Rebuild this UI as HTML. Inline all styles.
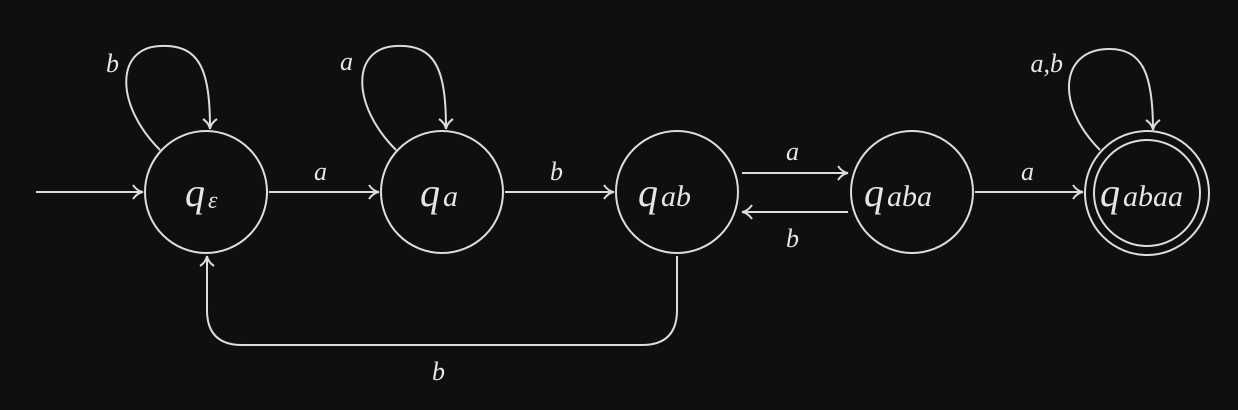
<!DOCTYPE html>
<html><head><style>
html,body{margin:0;padding:0;background:#0f0f0f;}
svg{display:block;}
text{font-family:"Liberation Serif",serif;font-style:italic;fill:#e6e6e6;}
</style></head><body>
<svg width="1238" height="410" viewBox="0 0 1238 410" xmlns="http://www.w3.org/2000/svg">
<defs>
<marker id="ah" markerWidth="14" markerHeight="16" refX="12" refY="8" orient="auto" markerUnits="userSpaceOnUse">
<path d="M2,1 Q6,7 12,8 Q6,9 2,15" fill="none" stroke="#ddd" stroke-width="2"/>
</marker>
</defs>
<g fill="none" stroke="#ddd" stroke-width="2">
<circle cx="206" cy="192" r="61"/>
<circle cx="442" cy="192" r="61"/>
<circle cx="677" cy="192" r="61"/>
<circle cx="912" cy="192" r="61"/>
<circle cx="1147" cy="193" r="62"/>
<circle cx="1147" cy="193" r="53"/>
<path d="M36,192 H143" marker-end="url(#ah)"/>
<path d="M269,192 H379" marker-end="url(#ah)"/>
<path d="M505,192 H614" marker-end="url(#ah)"/>
<path d="M742,173 H848" marker-end="url(#ah)"/>
<path d="M848,212 H742" marker-end="url(#ah)"/>
<path d="M975,192 H1083" marker-end="url(#ah)"/>
<path d="M160,150 C115,105 115,48 160,46 C200,44 210,70 210,129" marker-end="url(#ah)"/>
<path d="M396,150 C351,105 351,48 396,46 C436,44 446,70 446,129" marker-end="url(#ah)"/>
<path d="M1100,150 C1055,105 1060,50 1108,49 C1143,48 1153,75 1153,130" marker-end="url(#ah)"/>
<path d="M677,256 V310 Q677,345 642,345 H242 Q207,345 207,310 V256" marker-end="url(#ah)"/>
</g>
<text x="185" y="206" font-size="40">q</text><text x="208" y="208" font-size="24">ε</text>
<text x="420" y="206" font-size="40">q</text><text x="443" y="206" font-size="30">a</text>
<text x="638" y="206" font-size="40">q</text><text x="661" y="206" font-size="30">ab</text>
<text x="864" y="206" font-size="40">q</text><text x="887" y="206" font-size="30">aba</text>
<text x="1100" y="206" font-size="40">q</text><text x="1123" y="206" font-size="30">abaa</text>
<text x="106" y="72" font-size="26">b</text>
<text x="340" y="70" font-size="26">a</text>
<text x="1063" y="72" font-size="26" text-anchor="end">a,b</text>
<text x="314" y="180" font-size="26">a</text>
<text x="550" y="180" font-size="26">b</text>
<text x="786" y="160" font-size="26">a</text>
<text x="786" y="247" font-size="26">b</text>
<text x="1021" y="180" font-size="26">a</text>
<text x="432" y="380" font-size="26">b</text>
</svg>
</body></html>
